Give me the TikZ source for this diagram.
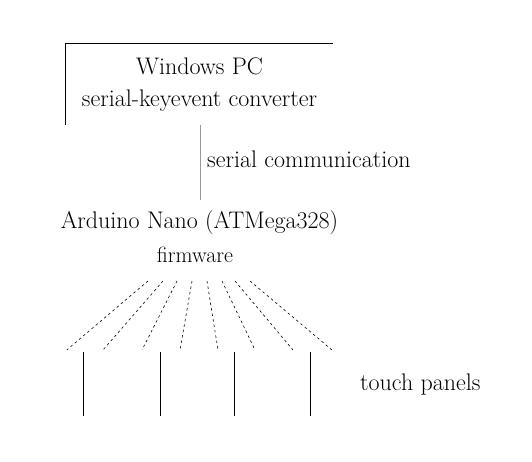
\documentclass[tikz,border=0pt]{standalone}
\usepackage{fontspec}
\setmainfont{Latin Modern Roman}
\begin{document}
\begin{tikzpicture}[x=1pt,y=-1pt,
  lbl/.style={font=\fontsize{24}{32}\selectfont, inner sep=0pt},
  small lbl/.style={font=\fontsize{22}{28}\selectfont, inner sep=0pt},
  edge/.style={line width=1pt},
  wire/.style={line width=0.6pt, dash pattern=on 2.5pt off 3pt},
  faint/.style={line width=0.1pt, black!40}]
\useasboundingbox (0,0) rectangle (532,462);
% Windows PC box (visible edges)
\node[lbl, align=center] (pc) at (199.5,85) {Windows PC\\serial-keyevent converter};
\coordinate (pcNW) at (65,44);
\coordinate (pcNE) at (333,44);
\coordinate (pcSW) at (65,125);
\draw[edge] (pcSW) -- (pcNW) -- (pcNE);
% serial link
\coordinate (pcS) at (200,125);
\coordinate (ardN) at (200,200);
\draw[faint] (pcS) -- (ardN);
\node[lbl, anchor=base west] (sc) at (207,168) {serial communication};
% Arduino
\node[lbl, anchor=base] (ard) at (199.5,229) {Arduino Nano (ATMega328)};
\node[small lbl, anchor=base] (fw) at (195,262) {firmware};
% wires
\foreach \i/\a/\b in {1/148/66.7,2/163/103,3/177/142,4/192/180,5/207/218,6/222/255,7/235/293,8/250/332}{
  \coordinate (t\i) at (\a,281);
  \coordinate (w\i) at (\b,350);
  \draw[wire] (t\i) -- (w\i);
}
% touch panels
\foreach \i/\x in {1/83,2/160,3/234,4/310}{
  \node[inner sep=0pt, minimum width=1pt, minimum height=64pt] (panel\i) at (\x,384) {};
  \draw[edge] (panel\i.north) -- (panel\i.south);
}
\node[lbl, anchor=base west] (tp) at (360,390) {touch panels};
\end{tikzpicture}
\end{document}
